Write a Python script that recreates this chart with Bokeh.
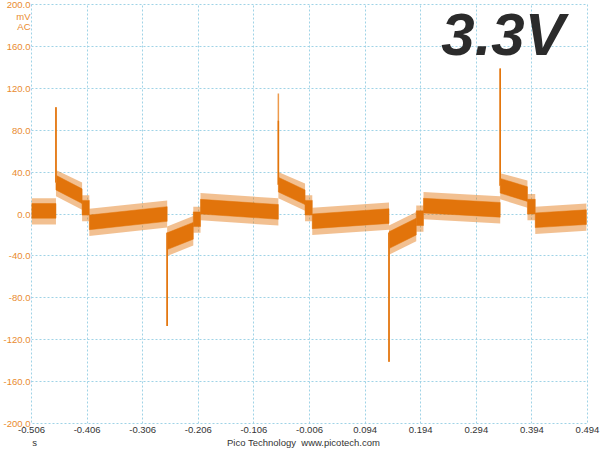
from bokeh.plotting import figure
from bokeh.models import FixedTicker, PrintfTickFormatter, Label, Range1d, LinearAxis
from bokeh.embed import file_html
from bokeh.resources import INLINE

# ---- data ----
x_ticks = [-0.506, -0.406, -0.306, -0.206, -0.106, -0.006, 0.094, 0.194, 0.294, 0.394, 0.494]
y_ticks = [-200, -160, -120, -80, -40, 0, 40, 80, 120, 160, 200]
y_unit_pos = [189, 179]
y_unit_text = ["mV", "AC"]
x_note_pos = [-0.5006, -0.0167]
x_note_text = ["s", "Pico Technology\u00a0 www.picotech.com"]

# trace segments (s) with dense-band envelope (mV) at each end
seg_t_start = [-0.506, -0.462, -0.415, -0.402, -0.262, -0.215, -0.202, -0.062, -0.014, -0.001, 0.137, 0.186, 0.199, 0.337, 0.386, 0.400]
seg_t_end   = [-0.462, -0.415, -0.402, -0.262, -0.215, -0.202, -0.062, -0.014, -0.001, 0.137, 0.186, 0.199, 0.337, 0.386, 0.400, 0.492]
core_up_start = [10, 37, 13, -1, -18, 2, 14, 35, 13, 0, -17, 3, 15, 34, 14, 1]
core_up_end   = [10, 24, 13, 7, -8, 2, 9, 23, 13, 5, -4, 3, 11, 26, 14, 4]
core_lo_start = [-4, 23, -1, -15, -34, -12, 0, 21, -1, -14, -33, -11, 1, 20, 0, -13]
core_lo_end   = [-4, 10, -1, -7, -24, -12, -5, 9, -1, -9, -20, -11, -3, 12, 0, -10]
# sparse noise extent
outer_up_start = [15, 42, 18, 5, -12, 7, 20, 40, 18, 6, -11, 8, 21, 39, 19, 7]
outer_up_end   = [15, 30, 18, 13, -2, 7, 15, 29, 18, 11, 2, 8, 17, 32, 19, 10]
outer_lo_start = [-10, 17, -7, -21, -40, -18, -6, 15, -7, -20, -39, -17, -5, 14, -6, -19]
outer_lo_end   = [-10, 4, -7, -13, -30, -18, -11, 3, -7, -15, -26, -17, -9, 6, -6, -16]

# single-sample spikes
spike_t = [-0.462, -0.262, -0.062, 0.137, 0.337]
spike_base = [30, -18, 28, -18, 27]
spike_peak = [102, -107, 115, -141, 139]
spike2_peak = [102, -107, 89, -141, 139]

ORANGE = "#E2740B"
SPIKE = "#EE9A4C"
GRID = "#9FD3E6"
LABEL_OR = "#E98B2E"
FONT = "Liberation Sans"

p = figure(width=600, height=450, output_backend="svg", toolbar_location=None,
           x_range=Range1d(-0.506, 0.494), y_range=Range1d(-200, 200),
           min_border_left=26, min_border_right=13, min_border_top=4, min_border_bottom=26)
p.background_fill_color = "white"
p.border_fill_color = "white"
p.outline_line_color = GRID
p.outline_line_dash = "2 2"
p.outline_line_width = 1

note_axis = LinearAxis()
p.add_layout(note_axis, "below")

def style_axis(ax, color, standoff):
    ax.axis_line_color = None
    ax.major_tick_line_color = None
    ax.minor_tick_line_color = None
    ax.major_tick_out = 0
    ax.major_tick_in = 0
    ax.minor_tick_out = 0
    ax.minor_tick_in = 0
    ax.major_label_text_font = FONT
    ax.major_label_text_font_size = "9.5px"
    ax.major_label_text_color = color
    ax.major_label_standoff = standoff

xa = p.xaxis[0]
ya = p.yaxis[0]
style_axis(xa, "#333333", 3)
style_axis(ya, LABEL_OR, 1)
style_axis(note_axis, "#333333", 1)

xa.ticker = FixedTicker(ticks=x_ticks)
xa.formatter = PrintfTickFormatter(format="%.3f")
ya.ticker = FixedTicker(ticks=y_ticks + y_unit_pos)
ya.formatter = PrintfTickFormatter(format="%.1f")
ya.major_label_overrides = dict(zip(y_unit_pos, y_unit_text))
note_axis.ticker = FixedTicker(ticks=x_note_pos)
note_axis.major_label_overrides = dict(zip(x_note_pos, x_note_text))

for g in (p.xgrid[0], p.ygrid[0]):
    g.grid_line_color = GRID
    g.grid_line_dash = "2 2"
    g.grid_line_width = 1
p.xgrid[0].ticker = FixedTicker(ticks=x_ticks)
p.ygrid[0].ticker = FixedTicker(ticks=y_ticks)

def polys(t0, t1, u0, u1, l0, l1):
    xs = [[a, b, b, a] for a, b in zip(t0, t1)]
    ys = [[a, b, d, c] for a, b, c, d in zip(u0, u1, l0, l1)]
    return xs, ys

xs, ys = polys(seg_t_start, seg_t_end, outer_up_start, outer_up_end, outer_lo_start, outer_lo_end)
p.patches(xs, ys, fill_color=ORANGE, fill_alpha=0.45, line_color=None)
xs, ys = polys(seg_t_start, seg_t_end, core_up_start, core_up_end, core_lo_start, core_lo_end)
p.patches(xs, ys, fill_color=ORANGE, line_color=ORANGE, line_width=0.5)

p.segment(x0=spike_t, y0=spike_base, x1=spike_t, y1=spike_peak, line_color=SPIKE, line_width=1.5)
p.segment(x0=spike_t, y0=spike_base, x1=spike_t, y1=spike2_peak, line_color=ORANGE, line_width=1.5)

p.add_layout(Label(x=0.342, y=171.4, text="3.3V", text_align="center", text_baseline="middle",
                   text_color="#2b2b2b", text_font=FONT, text_font_size="60px",
                   text_font_style="bold italic"))

open("out.html", "w").write(file_html(p, INLINE))
